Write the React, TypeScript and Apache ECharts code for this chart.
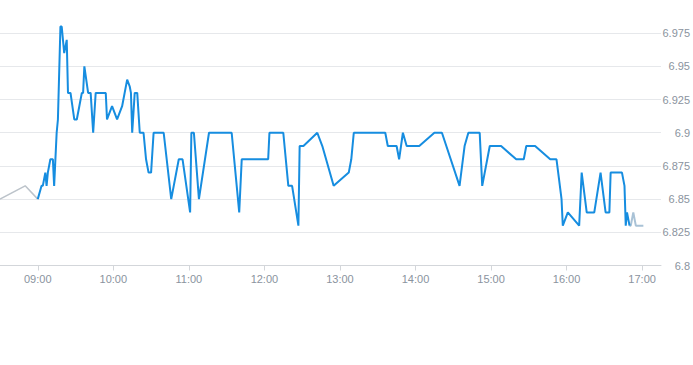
import React, { useEffect, useRef } from "react";
import * as echarts from "echarts";

// Pre-market (grey)
const preTimes = ["08:30", "08:50", "09:00"];
const preValues = [6.85, 6.86, 6.85];

// Main session (blue)
const mainTimes = [
  "09:00", "09:03", "09:04", "09:06", "09:07", "09:08", "09:10", "09:12", "09:13", "09:15",
  "09:16", "09:18", "09:19", "09:21", "09:23", "09:24", "09:26", "09:29", "09:31", "09:33",
  "09:35", "09:36", "09:37", "09:40", "09:42", "09:44", "09:46", "09:54", "09:55", "09:59",
  "10:03", "10:07", "10:11", "10:13", "10:14", "10:15", "10:17", "10:19", "10:21", "10:24",
  "10:26", "10:28", "10:30", "10:32", "10:40", "10:46", "10:52", "10:55", "11:01", "11:02",
  "11:04", "11:08", "11:16", "11:34", "11:40", "11:42", "12:03", "12:04", "12:15", "12:19",
  "12:22", "12:27", "12:28", "12:31", "12:42", "12:46", "12:55", "13:07", "13:09", "13:11",
  "13:36", "13:38", "13:45", "13:47", "13:50", "13:53", "14:03", "14:15", "14:21", "14:35",
  "14:39", "14:42", "14:51", "14:53", "14:59", "15:08", "15:20", "15:26", "15:28", "15:35",
  "15:47", "15:52", "15:54", "15:56", "15:57", "16:01", "16:10", "16:12", "16:16", "16:22",
  "16:27", "16:31", "16:34", "16:35", "16:44", "16:46", "16:47", "16:48", "16:50"
];
const mainValues = [
  6.85, 6.86, 6.86, 6.87, 6.86, 6.87, 6.88, 6.88, 6.86, 6.9,
  6.91, 6.98, 6.98, 6.96, 6.97, 6.93, 6.93, 6.91, 6.91, 6.92,
  6.93, 6.93, 6.95, 6.93, 6.93, 6.9, 6.93, 6.93, 6.91, 6.92,
  6.91, 6.92, 6.94, 6.935, 6.93, 6.9, 6.93, 6.93, 6.9, 6.9,
  6.88, 6.87, 6.87, 6.9, 6.9, 6.85, 6.88, 6.88, 6.84, 6.9,
  6.9, 6.85, 6.9, 6.9, 6.84, 6.88, 6.88, 6.9, 6.9, 6.86,
  6.86, 6.83, 6.89, 6.89, 6.9, 6.89, 6.86, 6.87, 6.88, 6.9,
  6.9, 6.89, 6.89, 6.88, 6.9, 6.89, 6.89, 6.9, 6.9, 6.86,
  6.89, 6.9, 6.9, 6.86, 6.89, 6.89, 6.88, 6.88, 6.89, 6.89,
  6.88, 6.88, 6.865, 6.85, 6.83, 6.84, 6.83, 6.87, 6.84, 6.84,
  6.87, 6.84, 6.84, 6.87, 6.87, 6.86, 6.83, 6.84, 6.83
];

// After-hours (light)
const postTimes = ["16:50", "16:51", "16:53", "16:55", "17:01"];
const postValues = [6.83, 6.83, 6.84, 6.83, 6.83];

const yTicks = ["6.8", "6.825", "6.85", "6.875", "6.9", "6.925", "6.95", "6.975"];

function ts(hm: string): number {
  const [h, m] = hm.split(":").map(Number);
  return new Date(2024, 0, 2, h, m, 0).getTime();
}

function pairs(times: string[], values: number[]) {
  return times.map((t, i) => [ts(t), values[i]]);
}

export default function App() {
  const ref = useRef<HTMLDivElement>(null);
  useEffect(() => {
    if (!ref.current) return;
    const chart = echarts.init(ref.current, undefined, { renderer: "svg" });
    const labelColor = "#8a939e";
    chart.setOption({
      animation: false,
      grid: { left: -2, right: 30, top: 0, bottom: 99.5, containLabel: false },
      xAxis: {
        type: "time",
        min: ts("08:30"),
        max: ts("17:15"),
        minInterval: 3600 * 1000,
        maxInterval: 3600 * 1000,
        axisLine: { show: true, lineStyle: { color: "#d3d6da", width: 1 } },
        axisTick: { show: true, length: 5, lineStyle: { color: "#d3d6da" } },
        splitLine: { show: false },
        axisLabel: {
          color: labelColor,
          fontSize: 11,
          fontFamily: "Liberation Sans, Arial, sans-serif",
          margin: 8,
          formatter: "{HH}:{mm}",
          showMinLabel: false,
          showMaxLabel: false,
        },
      },
      yAxis: {
        type: "value",
        position: "right",
        min: 6.8,
        max: 7.0,
        interval: 0.025,
        axisLine: { show: false },
        axisTick: { show: false },
        splitLine: { show: true, showMaxLine: false, lineStyle: { color: "#e6e8eb", width: 1 } },
        axisLabel: {
          color: labelColor,
          fontSize: 11,
          fontFamily: "Liberation Sans, Arial, sans-serif",
          align: "right",
          margin: 29,
          showMaxLabel: false,
          formatter: (v: number) => {
            const s = String(Math.round(v * 1000) / 1000);
            return yTicks.includes(s) ? s : s;
          },
        },
      },
      series: [
        {
          type: "line",
          data: pairs(preTimes, preValues),
          showSymbol: false,
          lineStyle: { color: "#bcc3ca", width: 1.5 },
          itemStyle: { color: "#bcc3ca" },
          z: 2,
        },
        {
          type: "line",
          data: pairs(mainTimes, mainValues),
          showSymbol: false,
          lineStyle: { color: "#168de0", width: 2 },
          itemStyle: { color: "#168de0" },
          z: 3,
        },
        {
          type: "line",
          data: pairs(postTimes, postValues),
          showSymbol: false,
          lineStyle: { color: "#a9c2d6", width: 2 },
          itemStyle: { color: "#a9c2d6" },
          z: 2,
        },
      ],
    });
    return () => chart.dispose();
  }, []);
  return (
    <div
      ref={ref}
      style={{ position: "fixed", left: 0, top: 0, width: 693, height: 365, background: "#fff" }}
    />
  );
}
